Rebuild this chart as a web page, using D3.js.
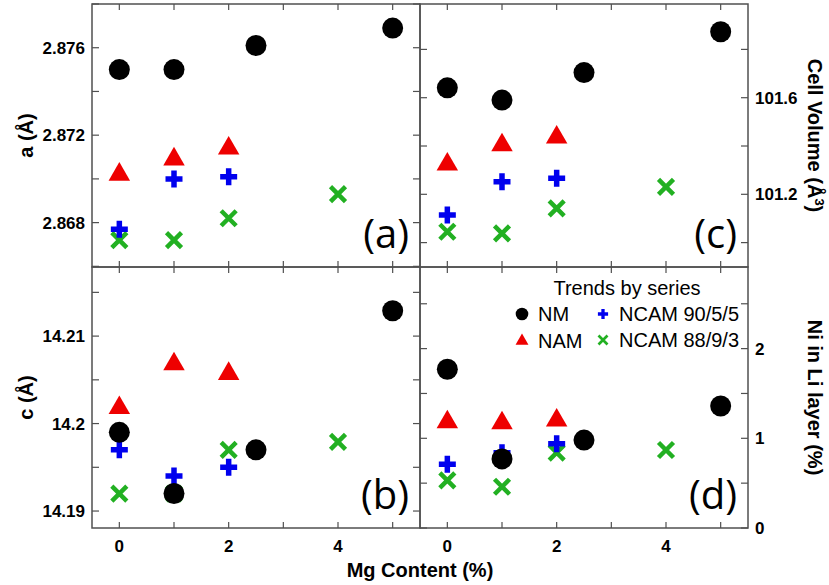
<!DOCTYPE html>
<html><head><meta charset="utf-8">
<script src="https://cdn.jsdelivr.net/npm/d3@7"></script>
<style>body{margin:0;background:#fff}svg{display:block}</style>
</head><body>
<svg id="chart" width="829" height="585"></svg>
<script>
// ---- data ----
const xNM = [0, 1, 2.5, 5];
const xNAM = [0, 1, 2];
const xNCAM905 = [0, 1, 2];
const xNCAM883 = [0, 1, 2, 4];

const aNM = [2.8750, 2.8750, 2.8761, 2.8769];
const aNAM = [2.8702, 2.8709, 2.8714];
const aNCAM905 = [2.8677, 2.8700, 2.8701];
const aNCAM883 = [2.8672, 2.8672, 2.8682, 2.8693];

const volNM = [101.641, 101.590, 101.704, 101.873];
const volNAM = [101.324, 101.404, 101.436];
const volNCAM905 = [101.114, 101.252, 101.266];
const volNCAM883 = [101.045, 101.038, 101.142, 101.231];

const cNM = [14.1990, 14.1920, 14.1970, 14.2129];
const cNAM = [14.2018, 14.2068, 14.2057];
const cNCAM905 = [14.1970, 14.1940, 14.1950];
const cNCAM883 = [14.1920, 14.1920, 14.1970, 14.1979];

const niNM = [1.77, 0.77, 0.98, 1.36];
const niNAM = [1.18, 1.17, 1.20];
const niNCAM905 = [0.71, 0.84, 0.94];
const niNCAM883 = [0.53, 0.46, 0.84, 0.87];

const xTicks = [0, 1, 2, 3, 4, 5];
const xTickLabels = ["0", "", "2", "", "4", ""];
const aTicks = [2.866, 2.868, 2.870, 2.872, 2.874, 2.876, 2.878];
const aTickLabels = ["", "2.868", "", "2.872", "", "2.876", ""];
const volTicks = [101.0, 101.2, 101.4, 101.6, 101.8];
const volTickLabels = ["", "101.2", "", "101.6", ""];
const cTicks = [14.19, 14.195, 14.2, 14.205, 14.21, 14.215];
const cTickLabels = ["14.19", "", "14.2", "", "14.21", ""];
const niTicks = [0, 0.5, 1, 1.5, 2, 2.5];
const niTickLabels = ["0", "", "1", "", "2", ""];

const seriesNames = ["NM", "NAM", "NCAM 90/5/5", "NCAM 88/9/3"];
const colors = {"NM": "#000000", "NAM": "#ee0000", "NCAM 90/5/5": "#0000ee", "NCAM 88/9/3": "#22b022"};
const shapes = {"NM": "circle", "NAM": "triangle", "NCAM 90/5/5": "plus", "NCAM 88/9/3": "cross"};

// ---- layout ----
const L = 92, M = 420, R = 748, T = 4, H = 267, B = 528;
const svg = d3.select("#chart");
const FONT = "'Liberation Sans', Arial, sans-serif";

const x1 = d3.scaleLinear().domain([-0.5, 5.5]).range([L, M]);
const x2 = d3.scaleLinear().domain([-0.5, 5.5]).range([M, R]);

const panels = [
  {id: "a", x: x1, y: d3.scaleLinear().domain([2.86597, 2.878]).range([H, T]),
   ticks: aTicks, labels: aTickLabels, side: "left", top: true,
   data: [[xNCAM883, aNCAM883, "NCAM 88/9/3"], [xNAM, aNAM, "NAM"], [xNCAM905, aNCAM905, "NCAM 90/5/5"], [xNM, aNM, "NM"]]},
  {id: "c", x: x2, y: d3.scaleLinear().domain([100.899, 101.988]).range([H, T]),
   ticks: volTicks, labels: volTickLabels, side: "right", top: true,
   data: [[xNCAM883, volNCAM883, "NCAM 88/9/3"], [xNAM, volNAM, "NAM"], [xNCAM905, volNCAM905, "NCAM 90/5/5"], [xNM, volNM, "NM"]]},
  {id: "b", x: x1, y: d3.scaleLinear().domain([14.18806, 14.2179]).range([B, H]),
   ticks: cTicks, labels: cTickLabels, side: "left", top: false,
   data: [[xNCAM883, cNCAM883, "NCAM 88/9/3"], [xNAM, cNAM, "NAM"], [xNCAM905, cNCAM905, "NCAM 90/5/5"], [xNM, cNM, "NM"]]},
  {id: "d", x: x2, y: d3.scaleLinear().domain([0, 2.91]).range([B, H]),
   ticks: niTicks, labels: niTickLabels, side: "right", top: false,
   data: [[xNCAM883, niNCAM883, "NCAM 88/9/3"], [xNAM, niNAM, "NAM"], [xNCAM905, niNCAM905, "NCAM 90/5/5"], [xNM, niNM, "NM"]]}
];

function drawMarker(g, name, cx, cy, scale) {
  const col = colors[name], s = scale || 1;
  const shp = shapes[name];
  if (shp === "circle") {
    g.append("path").attr("d", d3.symbol(d3.symbolCircle, 346 * s * s)())
      .attr("transform", `translate(${cx},${cy})`).attr("fill", col);
  } else if (shp === "triangle") {
    g.append("path").attr("d", d3.symbol(d3.symbolTriangle, 200 * s * s)())
      .attr("transform", `translate(${cx},${cy})`).attr("fill", col);
  } else if (shp === "plus") {
    const h = 8.5 * s;
    g.append("path").attr("d", `M${cx - h},${cy}H${cx + h}M${cx},${cy - h}V${cy + h}`)
      .attr("stroke", col).attr("stroke-width", 5.5 * s).attr("fill", "none");
  } else {
    const h = 7.5 * s;
    g.append("path").attr("d", `M${cx - h},${cy - h}L${cx + h},${cy + h}M${cx - h},${cy + h}L${cx + h},${cy - h}`)
      .attr("stroke", col).attr("stroke-width", 4.5 * s).attr("fill", "none");
  }
}

const axisColor = "#505050";
panels.forEach(p => {
  const g = svg.append("g");
  const [x0, xe] = p.x.range();
  const [yb, yt] = p.y.range();
  g.append("rect").attr("x", x0).attr("y", yt).attr("width", xe - x0).attr("height", yb - yt)
    .attr("fill", "none").attr("stroke", axisColor).attr("stroke-width", 1.5);
  xTicks.forEach((t, i) => {
    const xx = p.x(t);
    g.append("line").attr("x1", xx).attr("x2", xx).attr("y1", yb).attr("y2", yb - 6).attr("stroke", axisColor).attr("stroke-width", 1.2);
    g.append("line").attr("x1", xx).attr("x2", xx).attr("y1", yt).attr("y2", yt + 6).attr("stroke", axisColor).attr("stroke-width", 1.2);
    if (!p.top && xTickLabels[i]) {
      g.append("text").attr("x", xx).attr("y", 552).attr("text-anchor", "middle")
        .attr("font-family", FONT).attr("font-weight", "bold").attr("font-size", 17).text(xTickLabels[i]);
    }
  });
  p.ticks.forEach((t, i) => {
    const yy = p.y(t);
    g.append("line").attr("x1", x0).attr("x2", x0 + 7).attr("y1", yy).attr("y2", yy).attr("stroke", axisColor).attr("stroke-width", 1.2);
    g.append("line").attr("x1", xe).attr("x2", xe - 7).attr("y1", yy).attr("y2", yy).attr("stroke", axisColor).attr("stroke-width", 1.2);
    if (p.labels[i]) {
      const tx = p.side === "left" ? x0 - 7 : xe + 7;
      g.append("text").attr("x", tx).attr("y", yy).attr("dy", "0.36em")
        .attr("text-anchor", p.side === "left" ? "end" : "start")
        .attr("font-family", FONT).attr("font-weight", "bold").attr("font-size", 17).text(p.labels[i]);
    }
  });
  p.data.forEach(([xs, ys, name]) => {
    xs.forEach((xv, i) => drawMarker(g, name, p.x(xv), p.y(ys[i])));
  });
  g.append("text").attr("x", xe - 11).attr("y", yb - 19).attr("text-anchor", "end")
    .attr("font-family", "'Open Sans', 'Noto Sans', sans-serif").attr("font-size", 40).text(`(${p.id})`);
});

function rotText(x, y, angle, parts) {
  const t = svg.append("text").attr("transform", `translate(${x},${y}) rotate(${angle})`)
    .attr("text-anchor", "middle").attr("dy", "0.35em")
    .attr("font-family", FONT).attr("font-weight", "bold").attr("font-size", 20);
  parts.forEach(pt => {
    const ts = t.append("tspan").text(pt.t);
    if (pt.sup) ts.attr("baseline-shift", "super").attr("font-size", 13);
  });
}
rotText(26, (T + H) / 2, -90, [{t: "a (Å)"}]);
rotText(26, (H + B) / 2, -90, [{t: "c (Å)"}]);
rotText(815, (T + H) / 2, 90, [{t: "Cell Volume (Å"}, {t: "3", sup: true}, {t: ")"}]);
rotText(815, (H + B) / 2, 90, [{t: "Ni in Li layer (%)"}]);
svg.append("text").attr("x", M).attr("y", 577).attr("text-anchor", "middle")
  .attr("font-family", FONT).attr("font-weight", "bold").attr("font-size", 20).text("Mg Content (%)");

const lg = svg.append("g");
lg.append("text").attr("x", 627).attr("y", 295).attr("text-anchor", "middle")
  .attr("font-family", FONT).attr("font-size", 20).text("Trends by series");
const legPos = [[522, 314, "NM"], [522, 341, "NAM"], [603, 314, "NCAM 90/5/5"], [603, 340, "NCAM 88/9/3"]];
legPos.forEach(([lx, ly, name]) => {
  drawMarker(lg, name, lx, ly, 0.6);
  lg.append("text").attr("x", lx + 16).attr("y", ly).attr("dy", "0.36em")
    .attr("font-family", FONT).attr("font-size", 20).text(name);
});
</script>
</body></html>
